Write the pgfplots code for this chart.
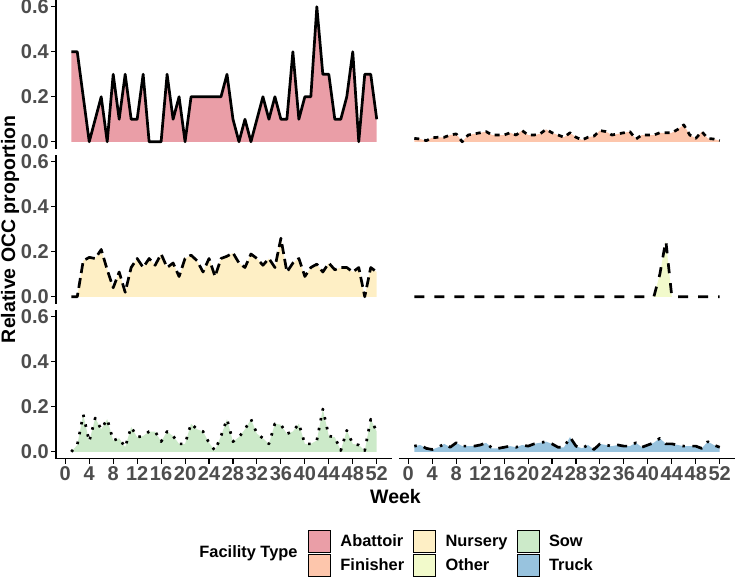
\documentclass[border=0pt]{standalone}
\usepackage{fontspec}
\setmainfont{Liberation Sans}
\usepackage{pgfplots}
\usepackage{pgfplotstable}
\pgfplotsset{compat=1.18}

\definecolor{abattoir}{HTML}{EA9EA7}
\definecolor{finisher}{HTML}{FDC6AC}
\definecolor{nursery}{HTML}{FEEFC5}
\definecolor{other}{HTML}{F2FACB}
\definecolor{sow}{HTML}{CCEAC9}
\definecolor{truck}{HTML}{98C3DE}
\definecolor{tickgray}{HTML}{4D4D4D}

% relative OCC proportion per week and facility type
\pgfplotstableread{
week ab fin nur oth sow tru
1 0.40 0.015 0.00 0 0.00 0.025
2 0.40 0.012 0.00 0 0.03 0.03
3 0.20 0.005 0.16 0 0.165 0.015
4 0.00 0.018 0.175 0 0.045 0.01
5 0.10 0.02 0.17 0 0.15 0.02
6 0.20 0.02 0.21 0 0.10 0.035
7 0.00 0.03 0.12 0 0.145 0.02
8 0.30 0.035 0.04 0 0.05 0.04
9 0.10 0.00 0.11 0 0.06 0.025
10 0.30 0.03 0.02 0 0.02 0.025
11 0.10 0.035 0.13 0 0.11 0.025
12 0.10 0.04 0.17 0 0.065 0.03
13 0.30 0.045 0.13 0 0.07 0.04
14 0.00 0.03 0.17 0 0.09 0.015
15 0.00 0.03 0.14 0 0.09 0.015
16 0.00 0.03 0.19 0 0.045 0.02
17 0.30 0.04 0.13 0 0.09 0.025
18 0.10 0.03 0.15 0 0.07 0.02
19 0.20 0.05 0.09 0 0.035 0.03
20 0.00 0.03 0.17 0 0.035 0.025
21 0.20 0.03 0.185 0 0.125 0.035
22 0.20 0.035 0.16 0 0.10 0.04
23 0.20 0.055 0.11 0 0.09 0.045
24 0.20 0.04 0.17 0 0.04 0.035
25 0.20 0.03 0.09 0 0.005 0.02
26 0.20 0.02 0.17 0 0.07 0.02
27 0.30 0.04 0.18 0 0.145 0.065
28 0.10 0.02 0.195 0 0.045 0.025
29 0.00 0.008 0.15 0 0.065 0.015
30 0.10 0.02 0.13 0 0.10 0.03
31 0.00 0.025 0.19 0 0.145 0.01
32 0.10 0.05 0.17 0 0.08 0.035
33 0.20 0.045 0.14 0 0.06 0.03
34 0.10 0.03 0.17 0 0.035 0.025
35 0.20 0.035 0.13 0 0.125 0.03
36 0.10 0.04 0.26 0 0.12 0.025
37 0.10 0.045 0.11 0 0.08 0.025
38 0.40 0.012 0.15 0 0.09 0.04
39 0.10 0.03 0.17 0 0.125 0.02
40 0.20 0.03 0.09 0 0.035 0.03
41 0.20 0.03 0.13 0 0.035 0.04
42 0.60 0.04 0.145 0.1 0.05 0.06
43 0.30 0.04 0.11 0.25 0.19 0.035
44 0.30 0.04 0.15 0 0.07 0.035
45 0.10 0.055 0.12 0 0.065 0.03
46 0.10 0.075 0.13 0 0.005 0.025
47 0.20 0.03 0.13 0 0.095 0.025
48 0.40 0.015 0.11 0 0.035 0.025
49 0.00 0.045 0.13 0 0.03 0.015
50 0.30 0.015 0.00 0 0.005 0.045
51 0.30 0.012 0.13 0 0.145 0.03
52 0.10 0.005 0.11 0 0.09 0.02
}\occ

\pgfplotsset{
  panel/.style={
    scale only axis, width=336pt, height=148.5pt,
    xmin=-1.55, xmax=54.55, ymin=-0.03, ymax=0.63,
    xtick={0,4,...,52}, ytick={0,0.2,0.4,0.6},
    axis line style={-, black, line width=1.1pt},
    tick style={black, line width=1.1pt},
    major tick length=5pt, tick align=outside,
    /pgf/number format/assume math mode=true,
    ticklabel style={font=\fontsize{20}{23}\selectfont\bfseries, text=tickgray},
    yticklabel style={inner xsep=2pt, /pgf/number format/.cd, fixed, fixed zerofill, precision=1},
    xticklabel style={inner ysep=3pt},
    label style={font=\fontsize{19.5}{22}\selectfont\bfseries},
  },
  leftcol/.style={axis y line*=left},
  rightcol/.style={axis y line=none},
  toprows/.style={axis x line=none},
  bottomrow/.style={axis x line*=bottom},
  occline/.style={black, line width=2.7pt, line join=round},
}

\begin{document}
\begin{tikzpicture}
\path[use as bounding box] (0,0) rectangle (735pt,-576pt);

% row 1
\begin{axis}[panel, leftcol, toprows, at={(56pt,-148.5pt)}, anchor=south west]
  \addplot[fill=abattoir, draw=none] table[x=week, y=ab] {\occ} \closedcycle;
  \addplot[occline] table[x=week, y=ab] {\occ};
\end{axis}
\begin{axis}[panel, rightcol, toprows, at={(399pt,-148.5pt)}, anchor=south west]
  \addplot[fill=finisher, draw=none] table[x=week, y=fin] {\occ} \closedcycle;
  \addplot[occline, dash pattern=on 5pt off 5pt] table[x=week, y=fin] {\occ};
\end{axis}

% row 2
\begin{axis}[panel, leftcol, toprows, at={(56pt,-303.5pt)}, anchor=south west,
  ylabel={Relative OCC proportion},
  ylabel style={at={(axis description cs:-0.137,0.5)}, anchor=center}]
  \addplot[fill=nursery, draw=none] table[x=week, y=nur] {\occ} \closedcycle;
  \addplot[occline, dash pattern=on 10pt off 5pt] table[x=week, y=nur] {\occ};
\end{axis}
\begin{axis}[panel, rightcol, toprows, at={(399pt,-303.5pt)}, anchor=south west]
  \addplot[fill=other, draw=none] table[x=week, y=oth] {\occ} \closedcycle;
  \addplot[occline, dash pattern=on 10pt off 10pt] table[x=week, y=oth] {\occ};
\end{axis}

% row 3
\begin{axis}[panel, leftcol, bottomrow, at={(56pt,-458.5pt)}, anchor=south west,
  xlabel={Week},
  xlabel style={at={(axis description cs:1.0104,-0.259)}, anchor=center}]
  \addplot[fill=sow, draw=none] table[x=week, y=sow] {\occ} \closedcycle;
  \addplot[occline, dash pattern=on 2.5pt off 7.5pt] table[x=week, y=sow] {\occ};
\end{axis}
\begin{axis}[panel, rightcol, bottomrow, at={(399pt,-458.5pt)}, anchor=south west]
  \addplot[fill=truck, draw=none] table[x=week, y=tru] {\occ} \closedcycle;
  \addplot[occline, dash pattern=on 2.5pt off 7.5pt on 10pt off 7.5pt] table[x=week, y=tru] {\occ};
\end{axis}

% legend
\begin{axis}[hide axis, scale only axis, width=1pt, height=1pt,
  xmin=0, xmax=1, ymin=0, ymax=1, at={(0pt,0pt)}, anchor=south west,
  legend columns=3, legend cell align=left,
  legend image code/.code={\path[#1] (0pt,-11pt) rectangle (22pt,11pt);},
  legend style={at={(308,-530)}, anchor=north west, draw=none, fill=none,
    inner sep=0pt, row sep=2pt, nodes={inner sep=0pt},
    font=\fontsize{16.4}{19}\selectfont\bfseries,
    /tikz/every odd column/.append style={column sep=10pt},
    /tikz/every even column/.append style={column sep=9pt}}]
  \addlegendimage{fill=abattoir}\addlegendentry{Abattoir}
  \addlegendimage{fill=nursery}\addlegendentry{Nursery}
  \addlegendimage{fill=sow}\addlegendentry{Sow}
  \addlegendimage{fill=finisher}\addlegendentry{Finisher}
  \addlegendimage{fill=other}\addlegendentry{Other}
  \addlegendimage{fill=truck}\addlegendentry{Truck}
\end{axis}
\node[font=\fontsize{16.4}{19}\selectfont\bfseries, anchor=center] at (248.5pt,-553pt) {Facility Type};
\end{tikzpicture}
\end{document}
